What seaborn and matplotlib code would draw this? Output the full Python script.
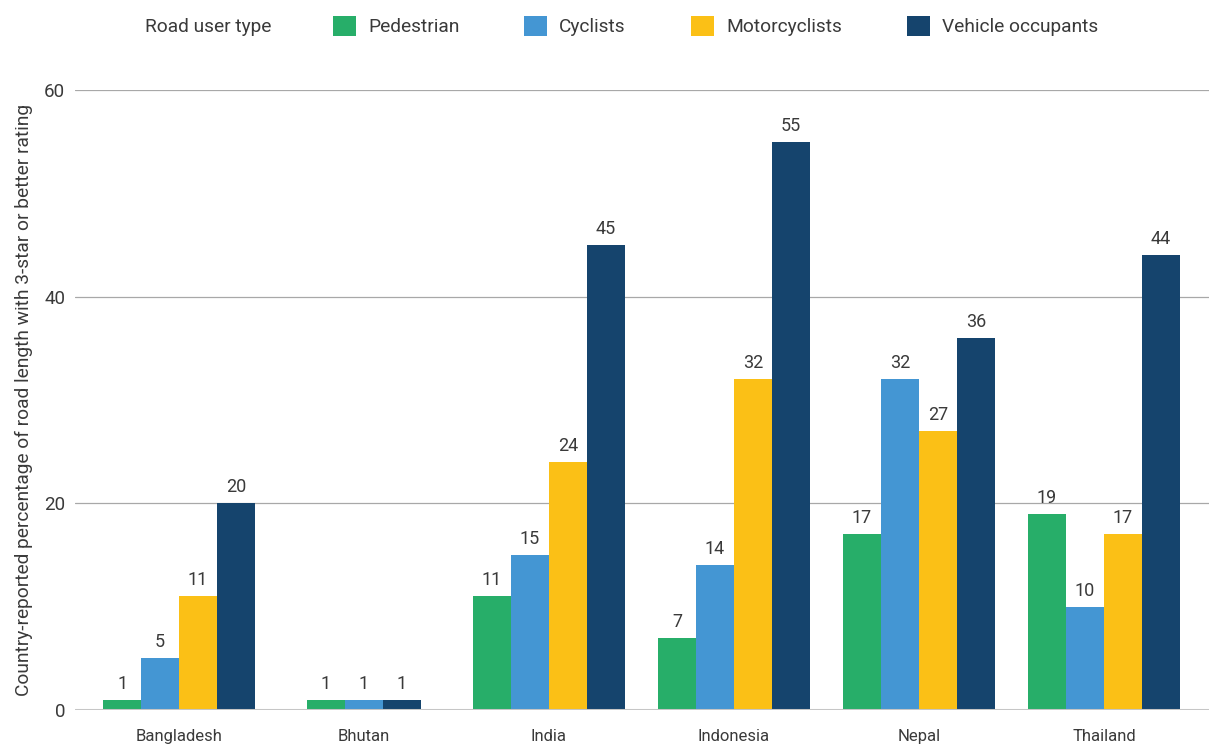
import matplotlib
matplotlib.use("Agg")
import matplotlib.pyplot as plt
from matplotlib.patches import Patch
import numpy as np
import pandas as pd
import seaborn as sns

# Data
countries = ["Bangladesh", "Bhutan", "India", "Indonesia", "Nepal", "Thailand"]
user_types = ["Pedestrian", "Cyclists", "Motorcyclists", "Vehicle occupants"]
pedestrian = [1, 1, 11, 7, 17, 19]
cyclists = [5, 1, 15, 14, 32, 10]
motorcyclists = [11, None, 24, 32, 27, 17]
vehicle_occupants = [20, 1, 45, 55, 36, 44]

colors = ["#27ae69", "#4496d3", "#fbc016", "#15446d"]
text_color = "#3a3a3a"

sns.set_theme(style="white")
plt.rcParams["font.family"] = ["Roboto", "DejaVu Sans"]
plt.rcParams["text.color"] = text_color

# Long table; bars within each country are centred on the available series
series = dict(zip(user_types, [pedestrian, cyclists, motorcyclists, vehicle_occupants]))
bar_w = 0.205
rows = []
for ci, country in enumerate(countries):
    present = [t for t in user_types if series[t][ci] is not None]
    n = len(present)
    for k, t in enumerate(present):
        rows.append({"country": country, "type": t, "value": series[t][ci],
                     "pos": ci + (k - (n - 1) / 2) * bar_w})
df = pd.DataFrame(rows)

fig = plt.figure(figsize=(12.09, 7.45), dpi=100)
ax = fig.add_axes([75 / 1209, 35 / 745, 1 - 75 / 1209, 620 / 745])

sns.barplot(data=df, x="pos", y="value", hue="type", hue_order=user_types,
            palette=colors, native_scale=True, dodge=False, width=1.0,
            errorbar=None, saturation=1, legend=False, linewidth=0, ax=ax)

for cont in ax.containers:
    ax.bar_label(cont, fmt="%g", padding=5, fontsize=13, color=text_color)

ax.set_xlim(-0.562, 5.568)
ax.set_ylim(0, 60)
ax.set_yticks([0, 20, 40, 60])
ax.set_xticks(range(len(countries)))
ax.set_xticklabels(countries)
ax.set_xlabel("")
ax.set_ylabel("Country-reported percentage of road length with 3-star or better rating",
              fontsize=13.8, color=text_color, labelpad=8)

for y in [20, 40, 60]:
    ax.axhline(y, color="#a8a8a8", lw=0.9, zorder=0)
ax.axhline(0, color="#c6c6c6", lw=2.2, zorder=3)

for s in ax.spines.values():
    s.set_visible(False)
ax.tick_params(axis="x", length=0, pad=14, labelsize=12, labelcolor=text_color)
ax.tick_params(axis="y", length=0, pad=7, labelsize=13.5, labelcolor=text_color)

# Legend across the top
fig.text(145 / 1209, 1 - 27 / 745, "Road user type", fontsize=13.8,
         va="center", ha="left", color=text_color)
handles = [Patch(facecolor=c, edgecolor="none") for c in colors]
fig.legend(handles, user_types, loc="center left",
           bbox_to_anchor=(333 / 1209, 1 - 26 / 745), ncol=4, frameon=False,
           fontsize=13.8, handlelength=1.2, handleheight=1.25,
           handletextpad=0.62, columnspacing=3.4, borderpad=0, borderaxespad=0,
           labelcolor=text_color)

fig.savefig("out.png", dpi=100)
